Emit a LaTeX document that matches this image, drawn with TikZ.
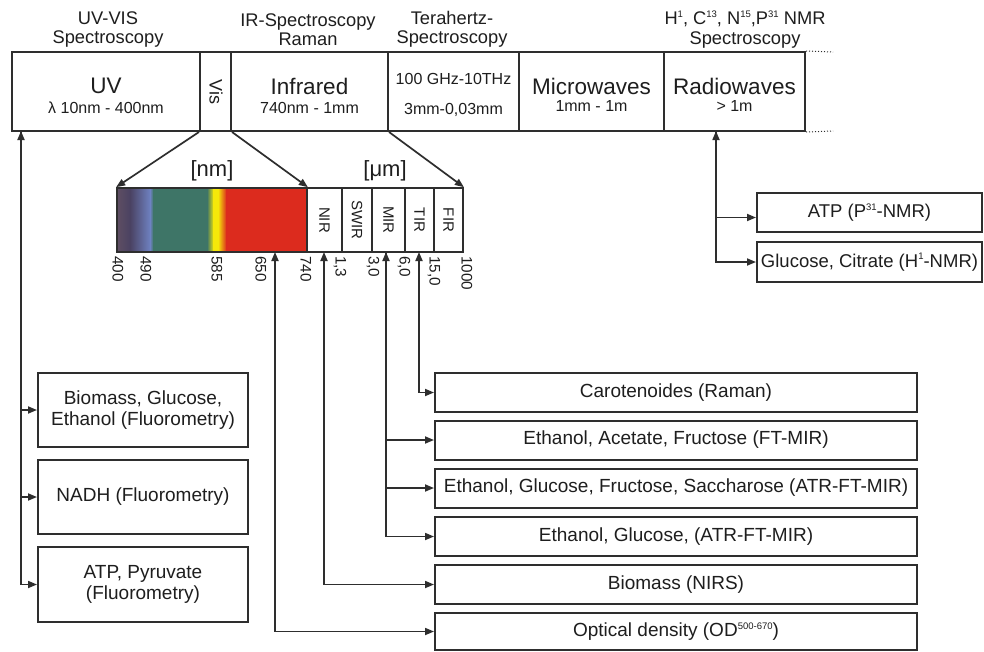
\documentclass[tikz,border=0pt]{standalone}
\usepackage{fontspec}
\setmainfont{Liberation Sans}
\usetikzlibrary{arrows.meta,calc}
\definecolor{lc}{HTML}{2E2E2E}
\definecolor{tc}{HTML}{1E1E1E}
\definecolor{g1}{HTML}{5E4E62}
\definecolor{g2}{HTML}{4A4262}
\definecolor{g3}{HTML}{6F82C2}
\definecolor{g4}{HTML}{3E7567}
\definecolor{g5}{HTML}{E6E010}
\definecolor{g6}{HTML}{F5E80A}
\definecolor{g7}{HTML}{EE8A1A}
\definecolor{g8}{HTML}{DC2B1E}
\newcommand\fsz[2]{\fontsize{#1}{#2}\selectfont}
\newcommand\sups[2]{\raisebox{#1}{\fontsize{9.5pt}{9.5pt}\selectfont #2}}
\tikzset{
  band/.style={draw=lc, line width=2pt, inner sep=0pt, minimum height=79pt},
  head/.style={align=center, text=tc, font=\fsz{18.3pt}{19.5pt}, inner sep=0pt},
  bigt/.style={text=tc, font=\fsz{22.5pt}{24pt}, inner sep=0pt},
  subt/.style={text=tc, font=\fsz{16pt}{18pt}, inner sep=0pt},
  irb/.style={draw=lc, line width=1.7pt, rotate=-90, minimum width=64pt, inner sep=0pt, text=tc, font=\fsz{15pt}{16pt}},
  tick/.style={rotate=-90, anchor=west, inner sep=0pt, text=tc, font=\fsz{15.3pt}{16pt}},
  unit/.style={text=tc, font=\fsz{22pt}{24pt}, inner sep=0pt},
  obox/.style={draw=lc, line width=2pt, inner sep=0pt, minimum width=482pt, minimum height=39pt, text=tc, font=\fsz{19pt}{21pt}, align=center},
  lbox/.style={draw=lc, line width=2pt, inner sep=0pt, minimum width=210pt, minimum height=74pt, text=tc, font=\fsz{19pt}{21.5pt}, align=center},
  nbox/.style={draw=lc, line width=2pt, inner sep=0pt, minimum width=225pt, minimum height=39pt, text=tc, font=\fsz{18.5pt}{21pt}, align=center},
  conn/.style={draw=lc, line width=1.7pt, -{Triangle[length=9pt,width=7pt]}},
  conn2/.style={draw=lc, line width=1.7pt, {Triangle[length=9pt,width=7pt]}-{Triangle[length=9pt,width=7pt]}},
  dots/.style={draw=lc, line width=1pt, dotted}
}
\begin{document}
\begin{tikzpicture}[x=1pt,y=-1pt]
\useasboundingbox[fill=white] (0,0) rectangle (984,651);

% headers
\node[head] (h1) at (108,29.5) {UV-VIS\\Spectroscopy};
\node[head] (h2) at (308,29.5) {IR-Spectroscopy\\Raman};
\node[head] (h3) at (452,29.5) {Terahertz-\\Spectroscopy};
\node[head] (h4) at (745,29.5) {H\sups{7.5pt}{1}, C\sups{7.5pt}{13}, N\sups{7.5pt}{15},P\sups{7.5pt}{31} NMR\\Spectroscopy};

% top band
\node[band, minimum width=188pt] (uv) at (106,91.5) {};
\node[band, minimum width=31pt] (vis) at (215.5,91.5) {};
\node[band, minimum width=157pt] (ir) at (309.5,91.5) {};
\node[band, minimum width=131pt] (thz) at (453.5,91.5) {};
\node[band, minimum width=145pt] (mw) at (591.5,91.5) {};
\node[band, minimum width=141pt] (rw) at (734.5,91.5) {};

\node[bigt] (uvt) at (106,86) {UV};
\node[subt] (uvs) at (106,108) {λ 10nm - 400nm};
\node[rotate=-90, inner sep=0pt, text=tc, font=\fsz{18pt}{19pt}] (vist) at (216,92) {Vis};
\node[bigt] (irt) at (309.5,86) {Infrared};
\node[subt] (irs) at (309.5,108) {740nm - 1mm};
\node[subt] (thzt) at (453.5,79) {100 GHz-10THz};
\node[subt] (thzs) at (453.5,110) {3mm-0,03mm};
\node[bigt] (mwt) at (591.5,86) {Microwaves};
\node[subt] (mws) at (591.5,106) {1mm - 1m};
\node[bigt] (rwt) at (734.5,86) {Radiowaves};
\node[subt] (rws) at (734.5,106) {> 1m};

\coordinate (d1) at (833,52);
\coordinate (d2) at (833,131);
\draw[dots] (rw.north east) -- (d1);
\draw[dots] (rw.south east) -- (d2);

% visible strip
\shade[left color=g1, right color=g2] (117,188) rectangle (130.5,252);
\shade[left color=g2, right color=g3] (130,188) rectangle (150.5,252);
\shade[left color=g3, right color=g4] (150,188) rectangle (153.5,252);
\fill[g4] (153,188) rectangle (207.5,252);
\shade[left color=g4, right color=g5] (207,188) rectangle (213.5,252);
\fill[g6] (213,188) rectangle (218.5,252);
\shade[left color=g6, middle color=g7, right color=g8] (218,188) rectangle (226.5,252);
\fill[g8] (226,188) rectangle (307,252);
\node[draw=lc, line width=1.7pt, minimum width=190pt, minimum height=64pt, inner sep=0pt] (visible) at (212,220) {};

\node[irb, minimum height=35pt] (nir) at (324.5,220) {NIR};
\node[irb, minimum height=30pt] (swir) at (357,220) {SWIR};
\node[irb, minimum height=33pt] (mir) at (388.5,220) {MIR};
\node[irb, minimum height=29pt] (tir) at (419.5,220) {TIR};
\node[irb, minimum height=29pt] (fir) at (448.5,220) {FIR};

\node[unit] (nm) at (212,171) {[nm]};
\node[unit] (um) at (385,171) {[μm]};

\draw[conn] (vis.south west) -- (visible.north west);
\draw[conn] (vis.south east) -- (visible.north east);
\draw[conn] (ir.south east) -- (visible.north -| fir.north);

% tick labels
\node[tick] (t400) at (118,256) {400};
\node[tick] (t490) at (146,256) {490};
\node[tick] (t585) at (217,256) {585};
\node[tick] (t650) at (261,256) {650};
\node[tick] (t740) at (306,256) {740};
\node[tick] (t13) at (340,256) {1,3};
\node[tick] (t30) at (373,256) {3,0};
\node[tick] (t60) at (404,256) {6,0};
\node[tick] (t150) at (434,256) {15,0};
\node[tick] (t1000) at (467,256) {1000};

% right boxes
\node[obox] (caro) at (676,392.5) {Carotenoides (Raman)};
\node[obox] (ftmir) at (676,440) {Ethanol, Acetate, Fructose (FT-MIR)};
\node[obox] (atr1) at (676,488) {Ethanol, Glucose, Fructose, Saccharose (ATR-FT-MIR)};
\node[obox] (atr2) at (676,536.5) {Ethanol, Glucose, (ATR-FT-MIR)};
\node[obox] (nirs) at (676,584.5) {Biomass (NIRS)};
\node[obox, minimum height=37pt] (od) at (676,631.5) {Optical density (OD\sups{7.5pt}{500-670})};

\coordinate (p650) at (275,252);
\coordinate (pnir) at (324,252);
\coordinate (pmir) at (386,252);
\coordinate (ptir) at (419,252);

\draw[conn2] (ptir) |- (caro.west);
\draw[conn] (pmir) |- (ftmir.west);
\draw[conn] (pmir) |- (atr1.west);
\draw[conn2] (pmir) |- (atr2.west);
\draw[conn2] (pnir) |- (nirs.west);
\draw[conn2] (p650) |- (od.west);

% left boxes
\node[lbox] (bgl) at (143,410) {Biomass, Glucose,\\Ethanol (Fluorometry)};
\node[lbox] (nadh) at (143,497) {NADH (Fluorometry)};
\node[lbox, minimum height=75pt] (atpf) at (143,584.5) {ATP, Pyruvate\\(Fluorometry)};

\coordinate (puv) at (21,131);
\draw[conn2] (puv) |- (atpf.west);
\draw[conn] (puv) |- (bgl.west);
\draw[conn] (puv) |- (nadh.west);

% NMR boxes
\node[nbox] (atpn) at (869.5,212.5) {ATP (P\sups{7.5pt}{31}-NMR)};
\node[nbox, minimum height=40pt] (glcn) at (869.5,262) {Glucose, Citrate (H\sups{7.5pt}{1}-NMR)};

\coordinate (pnmr) at (716,131);
\draw[conn] (pnmr) |- ([yshift=-5pt]atpn.west);
\draw[conn2] (pnmr) |- (glcn.west);
\end{tikzpicture}
\end{document}
